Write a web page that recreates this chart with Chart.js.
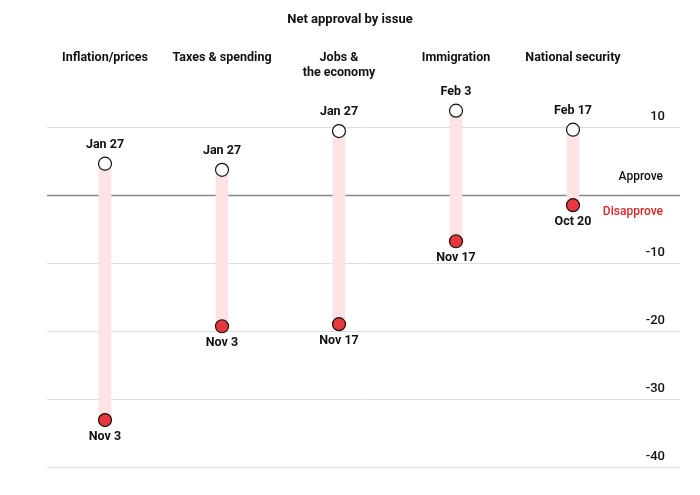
<!DOCTYPE html>
<html><head><meta charset="utf-8">
<script src="https://cdn.jsdelivr.net/npm/chart.js@4/dist/chart.umd.min.js"></script>
<style>html,body{margin:0;background:#fff}canvas{display:block}</style>
</head><body>
<div style="width:700px;height:495px"><canvas id="c"></canvas></div>
<script>
const issues = [['Inflation/prices'], ['Taxes & spending'], ['Jobs &', 'the economy'], ['Immigration'], ['National security']];
const highValues = [4.6, 3.7, 9.4, 12.4, 9.6];
const lowValues = [-33.1, -19.3, -19.0, -6.8, -1.5];
const highDates = ['Jan 27', 'Jan 27', 'Jan 27', 'Feb 3', 'Feb 17'];
const lowDates = ['Nov 3', 'Nov 3', 'Nov 17', 'Nov 17', 'Oct 20'];
const tickValues = [10, -10, -20, -30, -40];
const FONT = '"Liberation Sans Narrow", "Roboto", sans-serif';

// grid, ticks, labels, all positioned through the scales
const decor = {
  id: 'decor',
  beforeDatasetsDraw(chart) {
    const { ctx, scales: { x, y } } = chart;
    ctx.save();
    ctx.strokeStyle = '#dddddd'; ctx.lineWidth = 1;
    tickValues.forEach(v => {
      const py = Math.round(y.getPixelForValue(v)) + 0.5;
      ctx.beginPath(); ctx.moveTo(47, py); ctx.lineTo(680, py); ctx.stroke();
    });
    const zy = Math.round(y.getPixelForValue(0)) + 0.5;
    ctx.strokeStyle = '#888'; ctx.lineWidth = 1.5;
    ctx.beginPath(); ctx.moveTo(47, zy); ctx.lineTo(680, zy); ctx.stroke();
    ctx.restore();
  },
  afterDatasetsDraw(chart) {
    const { ctx, scales: { x, y } } = chart;
    ctx.save();
    ctx.fillStyle = '#111';
    ctx.textAlign = 'center'; ctx.textBaseline = 'middle';
    ctx.font = 'bold 13px ' + FONT;
    ctx.fillText('Net approval by issue', 350, 20);
    ctx.font = 'bold 12.5px ' + FONT;
    issues.forEach((lines, i) => {
      const px = x.getPixelForValue(i);
      lines.forEach((l, j) => ctx.fillText(l, px, 58 + j * 15));
      ctx.fillText(highDates[i], px, y.getPixelForValue(highValues[i]) - 19);
      ctx.fillText(lowDates[i], px, y.getPixelForValue(lowValues[i]) + 17);
    });
    ctx.textAlign = 'right';
    ctx.font = '500 13px ' + FONT;
    tickValues.forEach(v => ctx.fillText(String(v), 665, y.getPixelForValue(v) - 10));
    ctx.font = '500 12px ' + FONT;
    ctx.fillText('Approve', 663, y.getPixelForValue(0) - 18);
    ctx.fillStyle = '#d9262b';
    ctx.fillText('Disapprove', 663, y.getPixelForValue(0) + 17);
    ctx.restore();
  }
};

new Chart(document.getElementById('c'), {
  type: 'bar',
  data: {
    labels: issues.map(l => l.join(' ')),
    datasets: [
      { type: 'line', data: highValues, showLine: false, pointRadius: 6.5, pointBackgroundColor: '#fff', pointBorderColor: '#111', pointBorderWidth: 1.2, order: 0 },
      { type: 'line', data: lowValues, showLine: false, pointRadius: 6.5, pointBackgroundColor: '#e8383d', pointBorderColor: '#111', pointBorderWidth: 1.2, order: 0 },
      { data: highValues.map((h, i) => [lowValues[i], h]), backgroundColor: '#fde3e3', barThickness: 12, order: 1 }
    ]
  },
  options: {
    responsive: true, maintainAspectRatio: false, animation: false,
    layout: { padding: { left: 46.5, right: 68.5, top: 59, bottom: 28 } },
    plugins: { legend: { display: false }, tooltip: { enabled: false } },
    scales: {
      x: { display: false },
      y: { display: false, min: -40, max: 20 }
    }
  },
  plugins: [decor]
});
</script>
</body></html>
